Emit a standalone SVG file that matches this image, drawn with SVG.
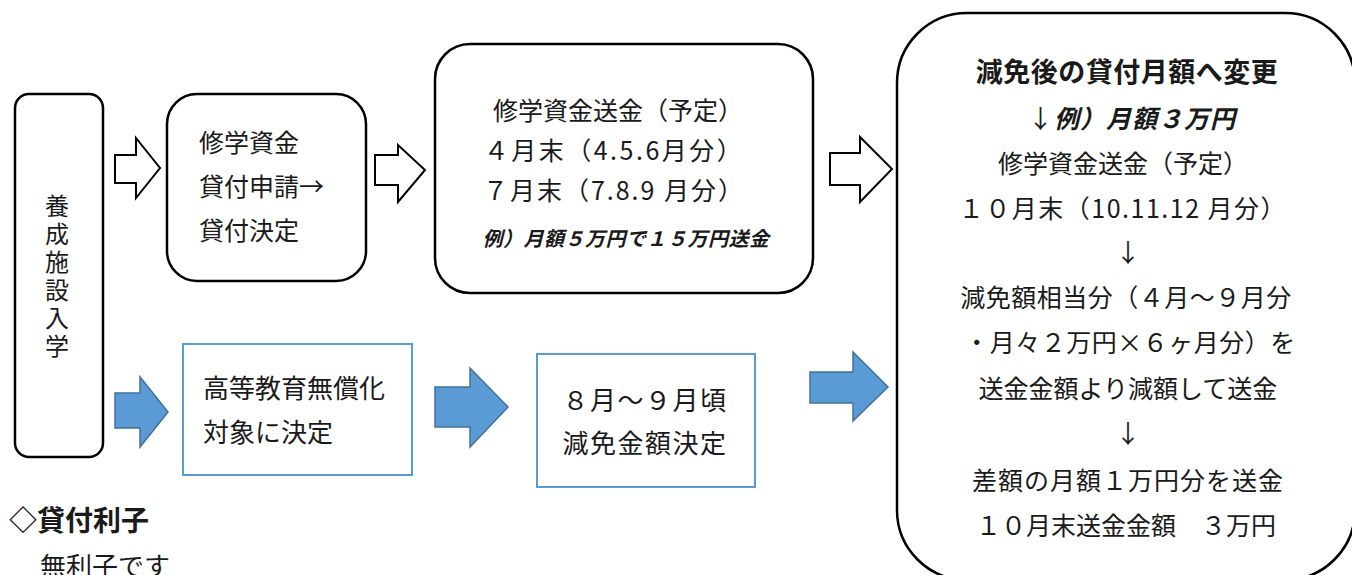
<svg xmlns="http://www.w3.org/2000/svg" width="1352" height="575" viewBox="0 0 1352 575">
<style>
text{font-family:"Noto Sans CJK JP","Noto Sans CJK SC",sans-serif;fill:#1a1a1a;font-size:25px}
.box{fill:#fff;stroke:#000;stroke-width:2.5}
.bbox{fill:#fff;stroke:#5b9bd5;stroke-width:2}
.oarr{fill:#fff;stroke:#000;stroke-width:2;stroke-linejoin:miter}
.barr{fill:#5b9bd5;stroke:#41719c;stroke-width:1.5}
.c{text-anchor:middle}
.it{font-style:italic;font-weight:bold}
.b{font-weight:bold}
.v{font-size:24px;writing-mode:vertical-rl;letter-spacing:4px}
</style>
<rect width="1352" height="575" fill="#fff"/>
<g id="connectors">
<polygon class="oarr" points="115,155 136,155 136,138 160,168 136,198 136,183 115,183"/>
<polygon class="oarr" points="375,155 398,155 398,145 425,170 398,202 398,185 375,185"/>
<polygon class="oarr" points="830,153 860,153 860,137 892,169 860,202 860,185 830,185"/>
<polygon class="barr" points="115,393 140,393 140,377 168,412 140,447 140,428 115,428"/>
<polygon class="barr" points="435,387 470,387 470,368 508,407 470,447 470,427 435,427"/>
<polygon class="barr" points="810,372 853,372 853,352 888,387 853,421 853,403 810,403"/>
</g>
<g id="n-entry">
<rect class="box" x="15" y="94" width="88" height="363" rx="14"/>
<text class="v" x="57" y="194">養成施設入学</text>
</g>
<g id="n-apply">
<rect class="box" x="167" y="94" width="199" height="187" rx="30"/>
<text x="199" y="152">修学資金</text>
<text x="199" y="196">貸付申請→</text>
<text x="199" y="240">貸付決定</text>
</g>
<g id="n-send">
<rect class="box" x="435" y="44" width="378" height="249" rx="35"/>
<text class="c" x="618" y="120">修学資金送金（予定）</text>
<text class="c" x="614" y="160" style="letter-spacing:2.5px">４月末（4.5.6月分）</text>
<text class="c" x="614" y="200" style="letter-spacing:2px">７月末（7.8.9 月分）</text>
<text class="c it" x="626" y="246" style="font-size:20px;letter-spacing:0.5px">例）月額５万円で１５万円送金</text>
</g>
<g id="n-after">
<rect class="box" x="897" y="13" width="458" height="567" rx="70"/>
<text class="c b" x="1127" y="82" style="font-size:27px;letter-spacing:0.5px">減免後の貸付月額へ変更</text>
<text class="c" x="1132" y="128" style="letter-spacing:1px">↓<tspan class="it">例）月額３万円</tspan></text>
<text class="c" x="1123" y="173">修学資金送金（予定）</text>
<text class="c" x="1123" y="218" style="letter-spacing:1.5px">１０月末（10.11.12 月分）</text>
<text class="c" x="1128" y="262">↓</text>
<text class="c" x="1126" y="307" style="letter-spacing:0.5px">減免額相当分（４月～９月分</text>
<text class="c" x="1130" y="352" style="letter-spacing:0.5px">・月々２万円×６ヶ月分）を</text>
<text class="c" x="1128" y="398">送金金額より減額して送金</text>
<text class="c" x="1128" y="443">↓</text>
<text class="c" x="1128" y="490" style="letter-spacing:1px">差額の月額１万円分を送金</text>
<text class="c" x="1126" y="535">１０月末送金金額　３万円</text>
</g>
<g id="n-free">
<rect class="bbox" x="183" y="344" width="229" height="131"/>
<text x="203" y="398" style="font-size:26px">高等教育無償化</text>
<text x="203" y="442" style="font-size:26px">対象に決定</text>
</g>
<g id="n-reduce">
<rect class="bbox" x="537" y="354" width="218" height="133"/>
<text class="c" x="645" y="410" style="font-size:26px;letter-spacing:1.5px">８月～９月頃</text>
<text class="c" x="645" y="453" style="font-size:26px;letter-spacing:1.5px">減免金額決定</text>
</g>
<g id="note">
<text class="b" x="9" y="531" style="font-size:28px">◇貸付利子</text>
<text x="40" y="576" style="font-size:26px">無利子です</text>
</g>
</svg>
